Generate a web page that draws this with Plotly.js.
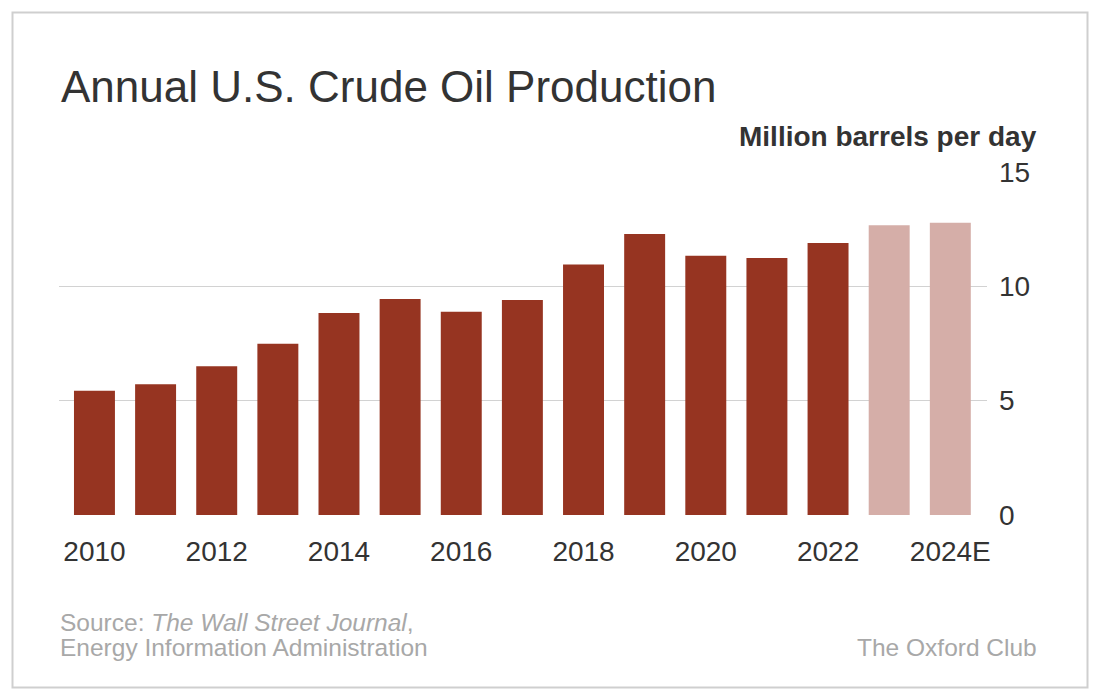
<!DOCTYPE html>
<html>
<head>
<meta charset="utf-8">
<script src="https://cdn.plot.ly/plotly-3.0.1.min.js"></script>
<style>
  html, body { margin: 0; padding: 0; background: #fff; }
  #chart { width: 1100px; height: 700px; }
</style>
</head>
<body>
<div id="chart"></div>
<script>
// Annual U.S. crude oil production, million barrels per day
const years = ["2010", "2011", "2012", "2013", "2014", "2015", "2016", "2017",
               "2018", "2019", "2020", "2021", "2022", "2023", "2024E"];
const production = [5.43, 5.72, 6.50, 7.49, 8.83, 9.45, 8.89, 9.40,
                    10.95, 12.29, 11.34, 11.24, 11.90, 12.67, 12.78];
const projected = [false, false, false, false, false, false, false, false,
                   false, false, false, false, false, true, true];
const yearTicks = ["2010", "2012", "2014", "2016", "2018", "2020", "2022", "2024E"];
const valueTicks = [0, 5, 10, 15];

const ACTUAL = "#963421";
const PROJECTED = "#d5aea8";
const FONT = "Liberation Sans, Arial, sans-serif";
const NOTE_COLOR = "#a8a8a8";

// plot-area geometry (pixels)
const W = 1100, H = 700;
const M = { l: 59, r: 113, t: 172, b: 185 };
const plotW = W - M.l - M.r, plotH = H - M.t - M.b;
const px2x = px => (px - M.l) / plotW;
const py2y = py => (H - M.b - py) / plotH;

const trace = {
  type: "bar",
  x: years,
  y: production,
  marker: { color: projected.map(p => p ? PROJECTED : ACTUAL), line: { width: 0 } },
  hoverinfo: "x+y"
};

const note = (text, xpx, ypx, anchor) => ({
  text: text,
  xref: "paper", yref: "paper",
  x: px2x(xpx), xanchor: anchor,
  y: py2y(ypx), yanchor: "middle",
  showarrow: false,
  font: { size: 24.5, color: NOTE_COLOR, family: FONT }
});

const layout = {
  width: W, height: H,
  margin: M,
  paper_bgcolor: "#fff",
  plot_bgcolor: "#fff",
  showlegend: false,
  bargap: 0.33,
  font: { family: FONT, color: "#333" },
  title: {
    text: "Annual U.S. Crude Oil Production",
    font: { size: 44, color: "#333", family: FONT },
    xref: "container", yref: "container",
    x: 61 / W, xanchor: "left",
    y: 1 - 71 / H, yanchor: "top"
  },
  xaxis: {
    type: "category",
    range: [-0.58, 14.6],
    tickmode: "array",
    tickvals: yearTicks,
    ticktext: yearTicks,
    showgrid: false,
    zeroline: false,
    showline: false,
    ticks: "",
    ticklabelstandoff: 17,
    tickfont: { size: 28, color: "#333", family: FONT },
    fixedrange: true
  },
  yaxis: {
    side: "right",
    range: [0, 15],
    tickmode: "array",
    tickvals: valueTicks,
    ticktext: valueTicks.map(String),
    showgrid: true,
    gridcolor: "#d2d2d2",
    gridwidth: 1.5,
    zeroline: false,
    showline: false,
    ticks: "",
    ticklabelstandoff: 11,
    tickfont: { size: 28, color: "#333", family: FONT },
    fixedrange: true
  },
  annotations: [
    {
      text: "<b>Million barrels per day</b>",
      xref: "paper", yref: "paper",
      x: px2x(1039), xanchor: "right",
      y: py2y(154), yanchor: "bottom",
      showarrow: false,
      font: { size: 28, color: "#333", family: FONT }
    },
    note("Source: <i>The Wall Street Journal</i>,", 58, 622, "left"),
    note("Energy Information Administration", 58, 647, "left"),
    note("The Oxford Club", 1039, 647, "right")
  ],
  shapes: [
    {
      type: "rect", xref: "paper", yref: "paper", layer: "below",
      x0: px2x(12.5), x1: px2x(1087.5),
      y0: py2y(687.5), y1: py2y(12.5),
      line: { color: "#cfcfcf", width: 2 },
      fillcolor: "rgba(0,0,0,0)"
    }
  ]
};

Plotly.newPlot("chart", [trace], layout, { displayModeBar: false, staticPlot: true });
</script>
</body>
</html>
